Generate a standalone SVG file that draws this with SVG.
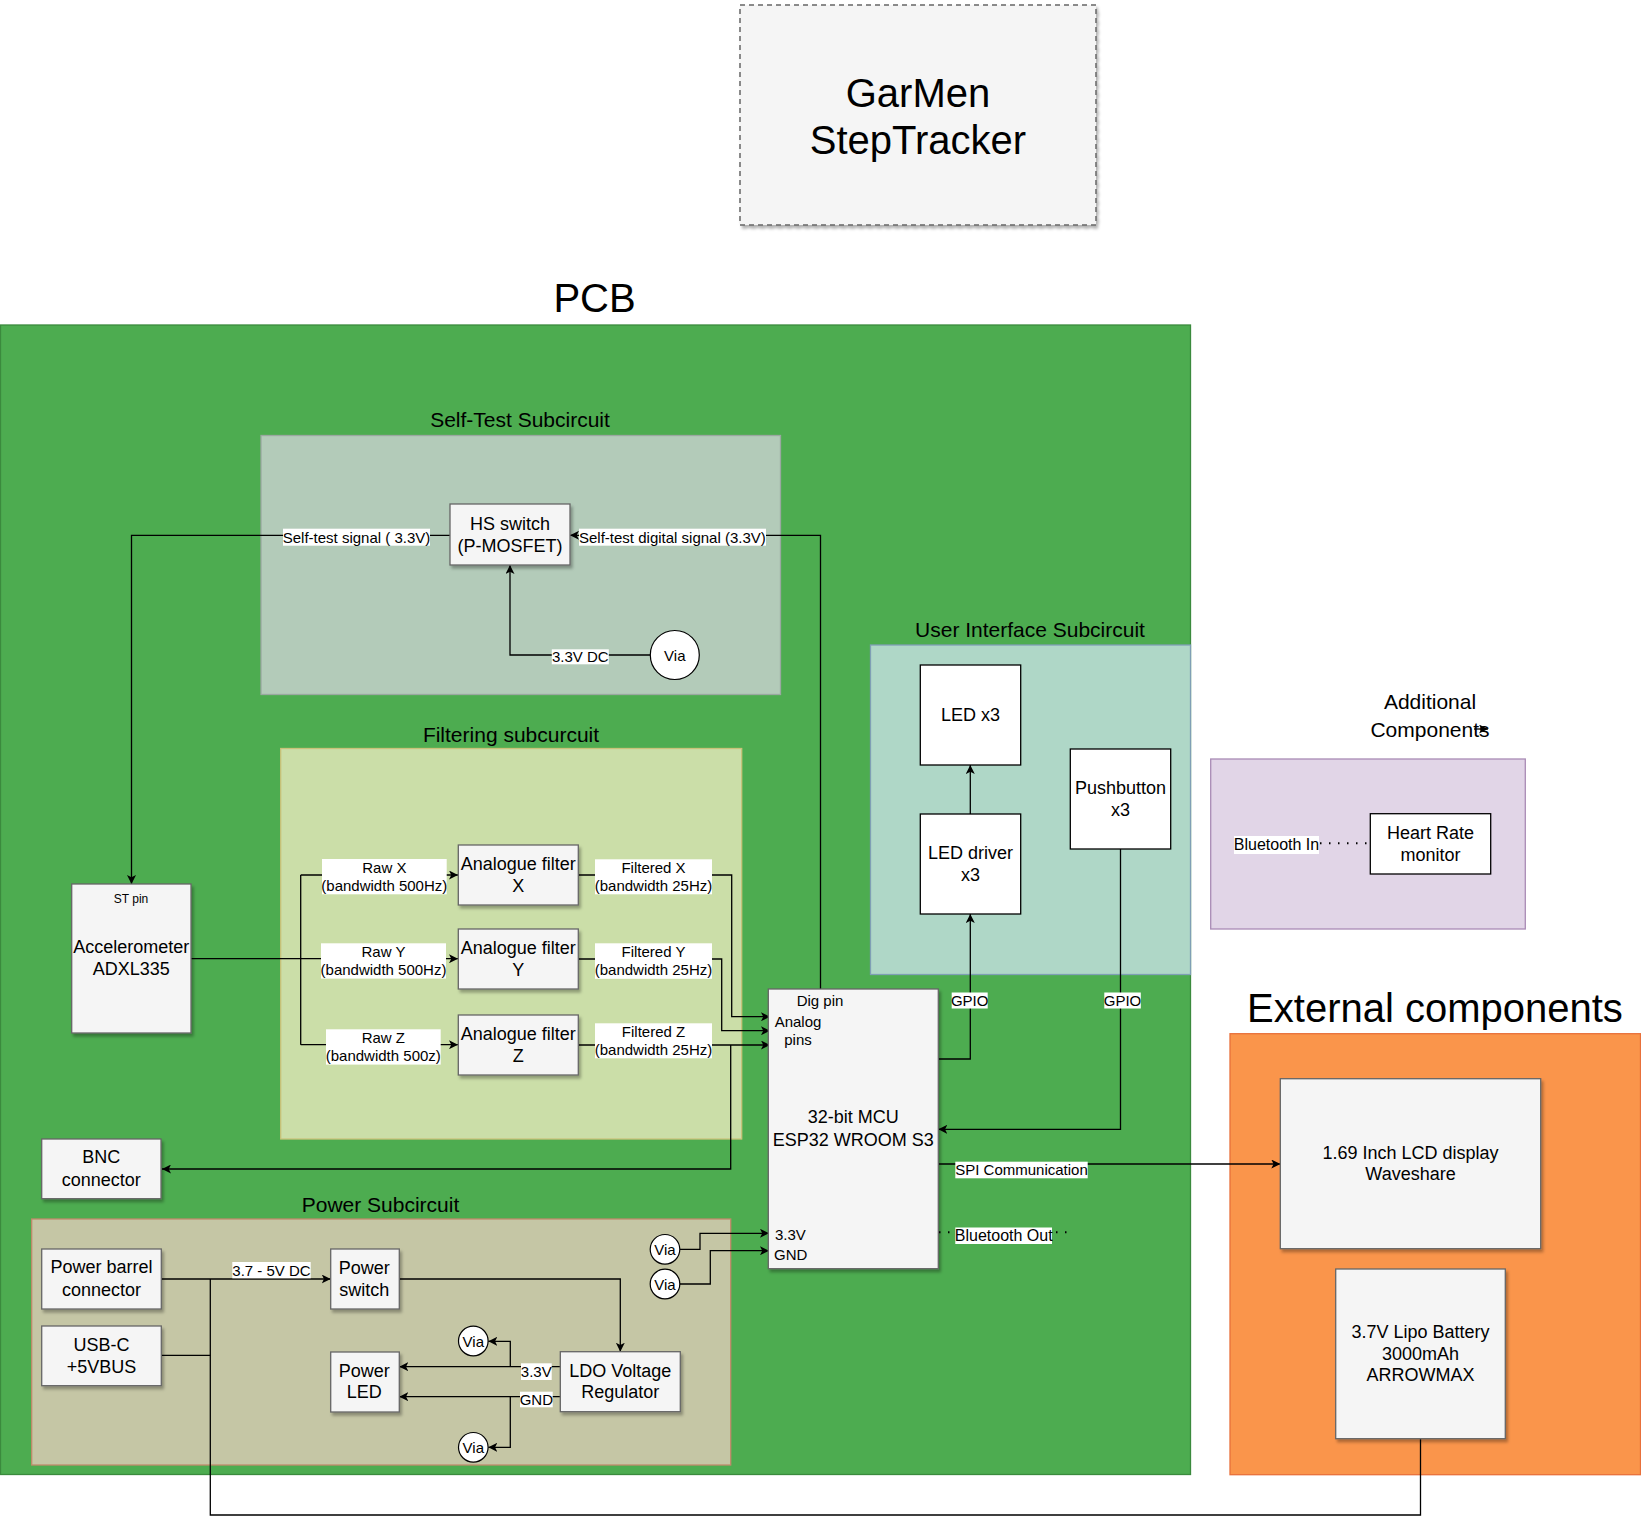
<svg xmlns="http://www.w3.org/2000/svg" width="1641" height="1524" viewBox="0 0 1641 1524">
<style>
text{font-family:"Liberation Sans",Arial,sans-serif;fill:#000;text-anchor:middle;dominant-baseline:central}
.t40{font-size:40px}
.t21{font-size:21px}
.t18{font-size:18px}
.t16{font-size:16px}
.t15{font-size:15px}
.t12{font-size:12px}
.st{text-anchor:start}
.node{fill:#f5f5f5;stroke:#666;stroke-width:1.3;filter:url(#sh)}
.wnode{fill:#fff;stroke:#000;stroke-width:1.3}
.via{fill:#fff;stroke:#000;stroke-width:1.2}
.lbl{fill:#fff}
.e{fill:none;stroke:#000;stroke-width:1.3}
.ea{fill:none;stroke:#000;stroke-width:1.3;marker-end:url(#arr)}
.dot{fill:none;stroke:#000;stroke-width:2;stroke-dasharray:1.5 7.5}
</style>
<defs>
<filter id="sh" x="-10%" y="-10%" width="130%" height="130%">
<feDropShadow dx="2" dy="3" stdDeviation="1.6" flood-color="#000" flood-opacity="0.3"/>
</filter>
<marker id="arr" viewBox="0 0 10 10" refX="10" refY="5" markerWidth="9" markerHeight="9" markerUnits="userSpaceOnUse" orient="auto">
<path d="M0,0 L10,5 L0,10 L2.5,5 z" fill="#000"/>
</marker>
</defs>

<rect width="1641" height="1524" fill="#fff"/>

<g id="title">
<rect x="740" y="5" width="356" height="220" fill="#f5f5f5" stroke="#666" stroke-width="1.5" stroke-dasharray="5 4" filter="url(#sh)"/>
<text class="t40" x="918" y="92.5">GarMen</text>
<text class="t40" x="918" y="140">StepTracker</text>
</g>

<g id="pcb">
<text class="t40" x="594.5" y="297.5">PCB</text>
<rect x="0.5" y="325" width="1190" height="1149.5" fill="#4dac50" stroke="#3b8a3d" stroke-width="1.3"/>
</g>

<g id="selftest-sub">
<text class="t21" x="520" y="419">Self-Test Subcircuit</text>
<rect x="261" y="435.5" width="519.5" height="259" fill="#b3cbb9" stroke="#9aa8a0" stroke-width="1.3"/>
</g>

<g id="filter-sub">
<text class="t21" x="511" y="734">Filtering subcurcuit</text>
<rect x="280.7" y="748.5" width="461" height="390.5" fill="#cbdea8" stroke="#c9c27a" stroke-width="1.3"/>
</g>

<g id="ui-sub">
<text class="t21" x="1030" y="629">User Interface Subcircuit</text>
<rect x="870.5" y="645" width="320" height="329.5" fill="#afd7c7" stroke="#7f9fb5" stroke-width="1.3"/>
</g>

<g id="power-sub">
<text class="t21" x="380.5" y="1204">Power Subcircuit</text>
<rect x="31.7" y="1219" width="699" height="246" fill="#c5c6a5" stroke="#c08a6a" stroke-width="1.3"/>
</g>

<g id="additional">
<text class="t21" x="1430" y="701.5">Additional</text>
<text class="t21" x="1430" y="729">Components</text>
<rect x="1210.7" y="759" width="314.6" height="170" fill="#e1d5e7" stroke="#a98bb5" stroke-width="1.3"/>
</g>

<g id="external">
<text class="t40" x="1435" y="1007.5">External components</text>
<rect x="1230" y="1033.7" width="410.5" height="441" fill="#fa954b" stroke="#e8703a" stroke-width="1.3"/>
</g>

<g id="connectors">
<path class="ea" d="M450,535.3 H131.5 V884"/>
<path class="ea" d="M820.5,989 V535.3 H570"/>
<path class="ea" d="M650,655 H510 V565"/>
<path class="e" d="M191,958.7 H300.7 M300.7,875 V1044.7"/>
<path class="ea" d="M300.7,875 H458"/>
<path class="ea" d="M300.7,958.7 H458"/>
<path class="ea" d="M300.7,1044.7 H458"/>
<path class="ea" d="M578.3,875 H731.7 V1016.7 H770"/>
<path class="ea" d="M578.3,959 H721.7 V1030.7 H770"/>
<path class="ea" d="M578.3,1045 H770"/>
<path class="ea" d="M730.7,1045 V1169 H162"/>
<path class="ea" d="M938.3,1059 H970.3 V914"/>
<path class="ea" d="M970.3,814 V765"/>
<path class="ea" d="M1120.5,849 V1129.3 H938.3"/>
<path class="ea" d="M938.3,1164 H1280.3"/>
<path class="dot" d="M939,1232.3 H1069"/>
<path class="dot" d="M1320,843.3 H1370"/>
<path class="ea" d="M1474,729 H1488"/>
<path class="ea" d="M161.3,1279 H330.7"/>
<path class="e" d="M161.3,1355.3 H210.3"/>
<path class="e" d="M1420.5,1439 V1515 H210.3 V1279"/>
<path class="ea" d="M399.3,1279 H620.3 V1351.7"/>
<path class="ea" d="M560.3,1366.7 H399.3"/>
<path class="ea" d="M510.3,1366.7 V1341.3 H488.3"/>
<path class="ea" d="M560.3,1396.7 H399.3"/>
<path class="ea" d="M510.3,1396.7 V1447.3 H488.3"/>
<path class="ea" d="M680,1249.3 H700 V1233.3 H769"/>
<path class="ea" d="M680,1284 H710.3 V1250.7 H769"/>

<rect class="lbl" x="283" y="528.7" width="147" height="17"/>
<text class="t15" x="356.5" y="537">Self-test signal ( 3.3V)</text>
<rect class="lbl" x="579" y="528.7" width="187" height="17"/>
<text class="t15" x="672.4" y="537">Self-test digital signal (3.3V)</text>
<rect class="lbl" x="551.8" y="649.3" width="57" height="15"/>
<text class="t15" x="580.3" y="656.5">3.3V DC</text>

<rect class="lbl" x="322" y="859" width="124.7" height="35.3"/>
<text class="t15" x="384.3" y="867.5">Raw X</text>
<text class="t15" x="384.3" y="885.5">(bandwidth 500Hz)</text>
<rect class="lbl" x="321" y="943.3" width="125" height="35.3"/>
<text class="t15" x="383.5" y="951.5">Raw Y</text>
<text class="t15" x="383.5" y="969.5">(bandwidth 500Hz)</text>
<rect class="lbl" x="326" y="1029.3" width="114.7" height="35.3"/>
<text class="t15" x="383.3" y="1037.5">Raw Z</text>
<text class="t15" x="383.3" y="1055.8">(bandwidth 500z)</text>

<rect class="lbl" x="595" y="859.3" width="117" height="35"/>
<text class="t15" x="653.5" y="867.8">Filtered X</text>
<text class="t15" x="653.5" y="885.8">(bandwidth 25Hz)</text>
<rect class="lbl" x="595" y="943.3" width="117" height="35.5"/>
<text class="t15" x="653.5" y="951.8">Filtered Y</text>
<text class="t15" x="653.5" y="969.8">(bandwidth 25Hz)</text>
<rect class="lbl" x="595" y="1023.3" width="117" height="35"/>
<text class="t15" x="653.5" y="1031.8">Filtered Z</text>
<text class="t15" x="653.5" y="1049.8">(bandwidth 25Hz)</text>

<rect class="lbl" x="951.7" y="992.5" width="36" height="16"/>
<text class="t15" x="969.7" y="1000.3">GPIO</text>
<rect class="lbl" x="1104.3" y="992.5" width="36.5" height="16"/>
<text class="t15" x="1122.5" y="1000.3">GPIO</text>

<rect class="lbl" x="955.3" y="1161.7" width="132.4" height="16.6"/>
<text class="t15" x="1021.5" y="1169.8">SPI Communication</text>
<rect class="lbl" x="955.3" y="1227.5" width="96.7" height="16.5"/>
<text class="t16" x="1003.7" y="1235.5">Bluetooth Out</text>
<rect class="lbl" x="1234" y="836" width="85" height="18"/>
<text class="t16" x="1276.5" y="844.8">Bluetooth In</text>

<rect class="lbl" x="232.3" y="1262" width="78.4" height="16.3"/>
<text class="t15" x="271.5" y="1270">3.7 - 5V DC</text>
<rect class="lbl" x="521" y="1363.3" width="30.7" height="16.7"/>
<text class="t15" x="536.3" y="1371.5">3.3V</text>
<rect class="lbl" x="520" y="1391.7" width="32.7" height="15.6"/>
<text class="t15" x="536.3" y="1399.3">GND</text>
</g>

<g id="hs-switch">
<rect class="node" x="450" y="504" width="120" height="61"/>
<text class="t18" x="510" y="524">HS switch</text>
<text class="t18" x="510" y="546.4">(P-MOSFET)</text>
</g>
<g id="via-st">
<circle class="via" cx="674.8" cy="655" r="24.5"/>
<text class="t15" x="674.8" y="655.3">Via</text>
</g>

<g id="accelerometer">
<rect class="node" x="71.7" y="884" width="119.3" height="149"/>
<text class="t12" x="131" y="898.5">ST pin</text>
<text class="t18" x="131.3" y="947.4">Accelerometer</text>
<text class="t18" x="131.3" y="969.4">ADXL335</text>
</g>

<g id="filter-x">
<rect class="node" x="458.3" y="845" width="120" height="60"/>
<text class="t18" x="518.3" y="863.7">Analogue filter</text>
<text class="t18" x="518.3" y="885.7">X</text>
</g>
<g id="filter-y">
<rect class="node" x="458.3" y="929" width="120" height="60"/>
<text class="t18" x="518.3" y="948">Analogue filter</text>
<text class="t18" x="518.3" y="969.7">Y</text>
</g>
<g id="filter-z">
<rect class="node" x="458.3" y="1015" width="120" height="60"/>
<text class="t18" x="518.3" y="1033.7">Analogue filter</text>
<text class="t18" x="518.3" y="1055.7">Z</text>
</g>

<g id="bnc">
<rect class="node" x="41.7" y="1139" width="119.3" height="59.7"/>
<text class="t18" x="101.3" y="1157.4">BNC</text>
<text class="t18" x="101.3" y="1179.7">connector</text>
</g>

<g id="mcu">
<rect class="node" x="768.3" y="989" width="170" height="279.7"/>
<text class="t15" x="820" y="1000.8">Dig pin</text>
<text class="t15" x="798" y="1021.8">Analog</text>
<text class="t15" x="798" y="1039.8">pins</text>
<text class="t18" x="853.3" y="1117.4">32-bit MCU</text>
<text class="t18" x="853.3" y="1139.7">ESP32 WROOM S3</text>
<text class="t15 st" x="775" y="1234">3.3V</text>
<text class="t15 st" x="774" y="1254">GND</text>
</g>

<g id="led">
<rect class="wnode" x="920.3" y="665" width="100.4" height="100"/>
<text class="t18" x="970.5" y="714.7">LED x3</text>
</g>
<g id="led-driver">
<rect class="wnode" x="920.3" y="814" width="100.4" height="100"/>
<text class="t18" x="970.5" y="853">LED driver</text>
<text class="t18" x="970.5" y="875.4">x3</text>
</g>
<g id="pushbutton">
<rect class="wnode" x="1070.3" y="749" width="100.4" height="100"/>
<text class="t18" x="1120.5" y="788">Pushbutton</text>
<text class="t18" x="1120.5" y="809.7">x3</text>
</g>

<g id="heart-rate">
<rect class="wnode" x="1370.3" y="813.7" width="120.4" height="60.3"/>
<text class="t18" x="1430.5" y="833">Heart Rate</text>
<text class="t18" x="1430.5" y="854.7">monitor</text>
</g>

<g id="lcd">
<rect class="node" x="1280.3" y="1078.7" width="260.4" height="170"/>
<text class="t18" x="1410.5" y="1153">1.69 Inch LCD display</text>
<text class="t18" x="1410.5" y="1174">Waveshare</text>
</g>
<g id="battery">
<rect class="node" x="1335.7" y="1269" width="169.6" height="169.7"/>
<text class="t18" x="1420.5" y="1332">3.7V Lipo Battery</text>
<text class="t18" x="1420.5" y="1353.7">3000mAh</text>
<text class="t18" x="1420.5" y="1375">ARROWMAX</text>
</g>

<g id="barrel">
<rect class="node" x="41.7" y="1249" width="119.6" height="60"/>
<text class="t18" x="101.5" y="1267.4">Power barrel</text>
<text class="t18" x="101.5" y="1289.7">connector</text>
</g>
<g id="usbc">
<rect class="node" x="41.7" y="1326" width="119.6" height="59.7"/>
<text class="t18" x="101.5" y="1344.7">USB-C</text>
<text class="t18" x="101.5" y="1366.7">+5VBUS</text>
</g>
<g id="power-switch">
<rect class="node" x="330.7" y="1249" width="68.6" height="60"/>
<text class="t18" x="364.3" y="1268">Power</text>
<text class="t18" x="364.3" y="1289.7">switch</text>
</g>
<g id="power-led">
<rect class="node" x="330.7" y="1352" width="68.6" height="60"/>
<text class="t18" x="364.3" y="1370.7">Power</text>
<text class="t18" x="364.3" y="1392.4">LED</text>
</g>
<g id="ldo">
<rect class="node" x="560.3" y="1351.7" width="120" height="60"/>
<text class="t18" x="620.3" y="1370.7">LDO Voltage</text>
<text class="t18" x="620.3" y="1392">Regulator</text>
</g>
<g id="via-p1">
<circle class="via" cx="473.3" cy="1341" r="14.8"/>
<text class="t15" x="473.3" y="1341.3">Via</text>
</g>
<g id="via-p2">
<circle class="via" cx="473.3" cy="1447.3" r="14.8"/>
<text class="t15" x="473.3" y="1447.6">Via</text>
</g>
<g id="via-p3">
<circle class="via" cx="665" cy="1249.3" r="14.8"/>
<text class="t15" x="665" y="1249.6">Via</text>
</g>
<g id="via-p4">
<circle class="via" cx="665" cy="1284" r="14.8"/>
<text class="t15" x="665" y="1284.3">Via</text>
</g>
</svg>
